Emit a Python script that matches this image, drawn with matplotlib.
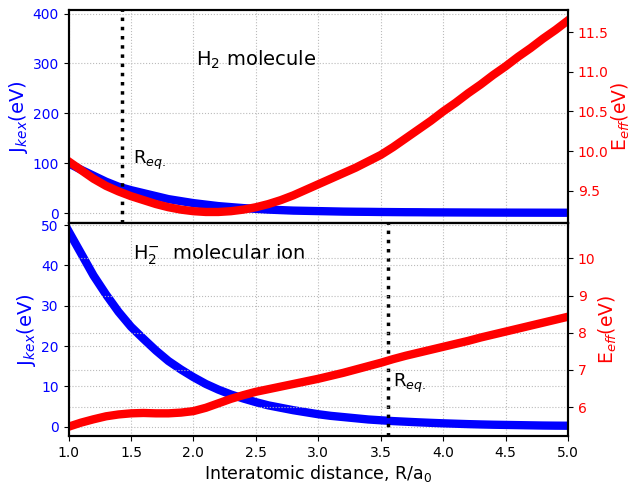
import numpy as np
import matplotlib.pyplot as plt

# interatomic distance R/a0, step 0.1
R = np.linspace(1.0, 5.0, 41)

# H2 molecule
J_h2 = [100, 87, 75, 63, 53, 46, 40, 34, 28, 24,
        20, 17, 14, 12, 10, 8.5, 7, 6, 5, 4.5,
        4, 3.5, 3, 2.7, 2.5, 2.2, 2, 1.8, 1.7, 1.5,
        1.4, 1.3, 1.2, 1.1, 1.0, 0.95, 0.9, 0.85, 0.8, 0.75, 0.7]
E_h2 = [9.87, 9.76, 9.65, 9.56, 9.49, 9.43, 9.38, 9.33, 9.29, 9.26,
        9.24, 9.23, 9.23, 9.24, 9.26, 9.29, 9.33, 9.38, 9.44, 9.51,
        9.58, 9.65, 9.72, 9.79, 9.87, 9.95, 10.05, 10.16, 10.27, 10.38,
        10.50, 10.61, 10.73, 10.84, 10.96, 11.07, 11.19, 11.30, 11.42, 11.53, 11.65]
Req_h2 = 1.43

# H2- molecular ion
J_h2m = [48.5, 43, 37.5, 32.8, 28.5, 24.8, 21.8, 18.9, 16.3, 14.2,
         12.3, 10.6, 9.2, 8.0, 7.0, 6.1, 5.3, 4.7, 4.1, 3.6,
         3.1, 2.7, 2.4, 2.1, 1.8, 1.6, 1.4, 1.25, 1.1, 0.97,
         0.85, 0.75, 0.65, 0.57, 0.5, 0.45, 0.4, 0.35, 0.3, 0.27, 0.25]
E_h2m = [5.47, 5.58, 5.67, 5.75, 5.80, 5.83, 5.84, 5.83, 5.83, 5.85,
         5.89, 5.98, 6.10, 6.22, 6.32, 6.41, 6.48, 6.55, 6.62, 6.69,
         6.76, 6.84, 6.92, 7.01, 7.10, 7.19, 7.29, 7.38, 7.46, 7.54,
         7.62, 7.70, 7.78, 7.87, 7.95, 8.03, 8.11, 8.19, 8.27, 8.35, 8.43]
Req_h2m = 3.56

xticks = [1.0, 1.5, 2.0, 2.5, 3.0, 3.5, 4.0, 4.5, 5.0]

fig, (ax0, ax1) = plt.subplots(nrows=2, sharex=True, figsize=(6.31, 4.82), dpi=100)
plt.subplots_adjust(left=0.1086, right=0.9002, top=0.979, bottom=0.0954, hspace=0)

grid_kw = dict(color='#bbbbbb', linestyle=':', linewidth=0.8)

# top panel
ax0.plot(R, J_h2, color='blue', lw=6)
ax0.set_ylim(-20, 407)
ax0.set_yticks([0, 100, 200, 300, 400])
ax0.set_ylabel(r'J$_{kex}$(eV)', color='blue', fontsize=14, labelpad=2)
ax0.tick_params(axis='y', labelcolor='blue', labelsize=10)
ax0.grid(True, **grid_kw)
ax0.axvline(Req_h2, color='black', linestyle=':', lw=2.5)
ax0.text(1.52, 98, r'R$_{eq.}$', fontsize=13)
ax0.text(2.02, 295, r'H$_2$ molecule', fontsize=14)

ax0r = ax0.twinx()
ax0r.plot(R, E_h2, color='red', lw=6)
ax0r.set_ylim(9.09, 11.78)
ax0r.set_yticks([9.5, 10.0, 10.5, 11.0, 11.5])
ax0r.set_ylabel(r'E$_{eff}$(eV)', color='red', fontsize=13.5, labelpad=1)
ax0r.tick_params(axis='y', labelcolor='red', labelsize=10)

# bottom panel
ax1.plot(R, J_h2m, color='blue', lw=6)
ax1.set_ylim(-2.3, 50.5)
ax1.set_yticks([0, 10, 20, 30, 40, 50])
ax1.set_ylabel(r'J$_{kex}$(eV)', color='blue', fontsize=14, labelpad=2)
ax1.tick_params(axis='y', labelcolor='blue', labelsize=10)
ax1.grid(True, **grid_kw)
ax1.axvline(Req_h2m, color='black', linestyle=':', lw=2.5)
ax1.set_xlim(1.0, 5.0)
ax1.set_xticks(xticks)
ax1.tick_params(axis='x', labelsize=10)
ax1.set_xlabel(r'Interatomic distance, R/a$_0$', fontsize=12.5, labelpad=2)
ax1.text(1.52, 41.5, r'H$_2^{-}$  molecular ion', fontsize=14)

ax1r = ax1.twinx()
ax1r.plot(R, E_h2m, color='red', lw=6)
ax1r.set_ylim(5.22, 10.95)
ax1r.set_yticks([6, 7, 8, 9, 10])
ax1r.set_ylabel(r'E$_{eff}$(eV)', color='red', fontsize=13.5, labelpad=1)
ax1r.tick_params(axis='y', labelcolor='red', labelsize=10)
ax1r.grid(True, axis='y', **grid_kw)
ax1r.text(3.6, 6.55, r'R$_{eq.}$', fontsize=13)

for a in (ax0, ax1, ax0r, ax1r):
    for s in a.spines.values():
        s.set_linewidth(1.5)

plt.savefig('out.png', dpi=100)
